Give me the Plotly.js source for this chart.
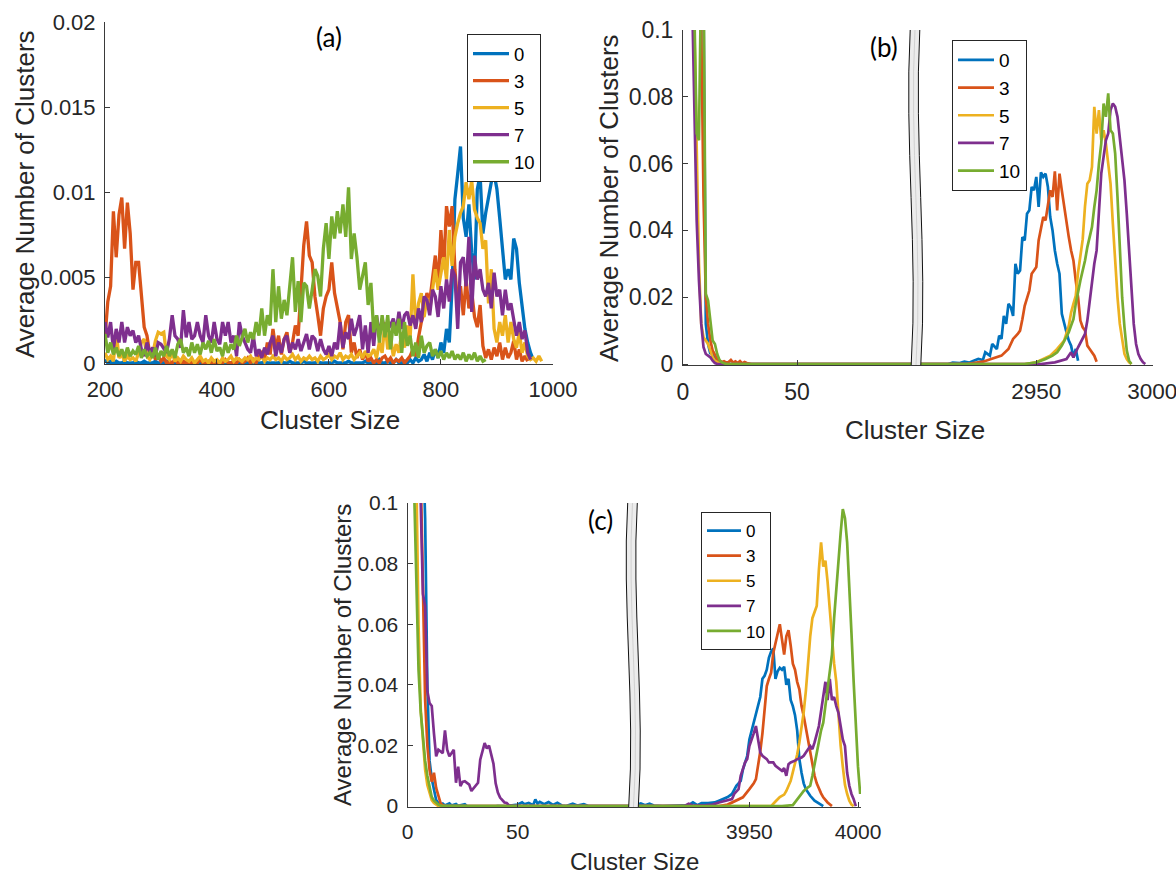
<!DOCTYPE html>
<html><head><meta charset="utf-8">
<script src="https://cdn.plot.ly/plotly-3.0.1.min.js"></script>
<style>html,body{margin:0;padding:0;background:#fff;}#chart{width:1176px;height:876px;}</style>
</head><body><div id="chart"></div>
<script>
// ---------- series meta ----------
const seriesNames = ['0','3','5','7','10'];
const seriesColors = ['#0072BD','#D95319','#EDB120','#7E2F8E','#77AC30'];

// ---------- tick labels ----------
const aXTicks = [200,400,600,800,1000];
const aYTicks = [0,0.005,0.01,0.015,0.02];
const bXTicksL = [0,50], bXTicksR = [2950,3000];
const cXTicksL = [0,50], cXTicksR = [3950,4000];
const bcYTicks = [0,0.02,0.04,0.06,0.08,0.1];

// ---------- panel (a): cluster sizes 200..980 step 5 ----------
const aX = Array.from({length:157},(_,i)=>200+5*i);
const a0 = [0.0002,0,0.0001,0,0.0001,0,0,0.0001,0,0,
 0,0.0001,0,0,0.0001,0,0,0,0.0001,0,
 0,0,0.0001,0,0,0,0.0001,0,0,0,
 0,0.0001,0,0,0,0,0.0001,0,0,0,
 0,0,0,0.0001,0,0,0,0,0.0001,0,
 0,0,0.0001,0,0,0,0,0.0001,0,0,
 0,0,0,0.0001,0,0,0.0001,0,0,0,
 0,0.0001,0,0,0,0,0.0001,0,0,0,
 0,0,0.0001,0,0,0,0,0.0001,0,0,
 0,0,0,0.0001,0,0,0,0,0.0002,0,
 0,0.0001,0,0,0.0002,0,0,0.0001,0,0.0002,
 0,0.0003,0.0001,0.0002,0.0005,0.0001,0.0006,0.0002,0.0008,0.0003,
 0.0012,0.0006,0.002,0.0012,0.0045,0.0096,0.0111,0.0127,0.0085,0.0074,
 0.0093,0.0065,0.0049,0.0102,0.011,0.0076,0.0088,0.0098,0.0106,0.0111,
 0.0102,0.0085,0.0068,0.0049,0.0055,0.0049,0.0073,0.0067,0.0047,0.0035,
 0.002,0.0012,0.0006,0.0002,null,null,null];
const a3 = [0.0015,0.0036,0.0045,0.0089,0.0062,0.0087,0.0097,0.0067,0.0094,0.0076,
 0.0043,0.0059,0.0059,0.0042,0.0021,0.0016,0.0005,0.0008,0.0002,0.0004,
 0.0001,0.0003,0,0.0001,0,0.0002,0,0,0.0001,0,
 0,0.0001,0,0,0.0002,0,0,0.0001,0,0,
 0.0001,0,0,0.0002,0,0,0.0001,0,0.0002,0,
 0.0001,0.0003,0,0.0002,0,0.0004,0.0006,0.0002,0.0012,0.0005,
 0.002,0.0008,0.0016,0.0005,0.0014,0.0018,0.0006,0.0012,0.0022,0.0016,
 0.0041,0.0069,0.0083,0.0063,0.0059,0.0039,0.0028,0.0016,0.0032,0.0039,
 0.0043,0.0059,0.0041,0.0032,0.0024,0.0008,0.0024,0.0028,0.0006,0.0012,
 0.0003,0.0008,0.0002,0.0006,0.0001,0.0003,0,0.0002,0,0.0003,
 0.0004,0.0001,0.0003,0,0.0002,0.0001,0.0003,0,0.0002,0.0004,
 0.0008,0.0004,0.0015,0.0024,0.003,0.0041,0.0036,0.0049,0.0063,0.0045,
 0.0078,0.0055,0.0092,0.008,0.0092,0.0055,0.0034,0.0045,0.0028,0.0049,
 0.0032,0.0042,0.0027,0.0021,0.0034,0.001,0.0003,0.0008,0.0002,0.0009,
 0.0004,0.0012,0.0002,0.0009,0.0003,0.0006,0.0013,0.0002,0.0008,0.0001,
 0.0004,0.0001,null,null,null,null,null];
const a5 = [0.0006,0.0002,0.0004,0.0001,0.0018,0.0003,0.0005,0.0001,0.0004,0.0002,
 0.0003,0.0001,0.0006,0.0012,0.0014,0.0004,0.0002,0.0005,0.0013,0.0018,
 0.0017,0.0018,0.0004,0.0002,0.0006,0.0001,0.0003,0.0001,0.0004,0.0002,
 0.0001,0.0003,0,0.0002,0.0004,0.0001,0.0002,0,0.0003,0.0001,
 0.0002,0,0.0003,0.0001,0.0002,0.0004,0.0001,0.0003,0.0002,0.0001,
 0.0003,0.0002,0.0004,0.0001,0.0003,0.0002,0.0004,0.0001,0.0003,0.0002,
 0.0004,0.0002,0.0003,0.0001,0.0004,0.0002,0.0003,0.0005,0.0002,0.0004,
 0.0001,0.0003,0.0002,0.0004,0.0002,0.0003,0.0001,0.0004,0.0002,0.0003,
 0.0005,0.0002,0.0004,0.0003,0.0006,0.0002,0.0004,0.0003,0.0005,0.0002,
 0.0004,0.0006,0.0003,0.0007,0.0004,0.0005,0.0008,0.0003,0.0012,0.0006,
 0.0024,0.0008,0.0015,0.0004,0.0011,0.0006,0.0018,0.0009,0.0022,0.0014,
 0.0052,0.0021,0.0035,0.0041,0.0027,0.0038,0.0031,0.0045,0.0055,0.0043,
 0.0052,0.0062,0.0049,0.0078,0.0057,0.0074,0.0082,0.0088,0.0092,0.0106,
 0.0096,0.0107,0.009,0.0085,0.0082,0.0067,0.0072,0.0035,0.0055,0.002,
 0.0012,0.0024,0.0016,0.0028,0.0012,0.0024,0.0014,0.0009,0.0018,0.0006,
 0.0012,0.0004,0.0002,0.0003,0.0001,0.0004,0.0001];
const a7 = [0.0024,0.0015,0.0024,0.0008,0.002,0.0012,0.0024,0.0012,0.0021,0.0016,
 0.0019,0.0012,0.0016,0.0008,0.0004,0.0012,0.0006,0.0009,0.0004,0.0012,
 0.0011,0.0008,0.0006,0.0014,0.0028,0.0016,0.0014,0.0009,0.0031,0.0015,
 0.0024,0.0014,0.0016,0.0024,0.0016,0.0012,0.0028,0.0016,0.0012,0.0024,
 0.0014,0.0011,0.0024,0.0016,0.0024,0.0012,0.0016,0.0004,0.0024,0.0016,
 0.0012,0.0008,0.0006,0.0016,0.0004,0.0008,0.0003,0.0009,0.0005,0.0012,
 0.0016,0.0004,0.0012,0.0006,0.0014,0.0016,0.0006,0.0012,0.0008,0.0014,
 0.0007,0.0012,0.0017,0.0008,0.0016,0.0014,0.0007,0.0014,0.0008,0.0005,
 0.001,0.0004,0.0012,0.0008,0.0024,0.0009,0.0018,0.0014,0.0026,0.0016,
 0.0021,0.0028,0.0008,0.0022,0.0006,0.0024,0.001,0.0028,0.0016,0.0026,
 0.0018,0.0024,0.0022,0.0026,0.0018,0.003,0.002,0.0028,0.003,0.0022,
 0.0028,0.002,0.0032,0.0024,0.0039,0.0037,0.0028,0.0043,0.0039,0.0027,
 0.0045,0.0032,0.0049,0.0036,0.0055,0.0051,0.002,0.0059,0.0062,0.0045,
 0.0074,0.003,0.0063,0.0049,0.0055,0.0043,0.0039,0.0047,0.0032,0.0053,
 0.0039,0.0043,0.0028,0.0043,0.0031,0.0035,0.0024,0.0016,0.0024,0.0014,
 0.0019,0.0006,0.0002,null,null,null,null];
const a10 = [0.0017,0.0006,0.0012,0.0005,0.0009,0.0004,0.0008,0.0003,0.0009,0.0004,
 0.0007,0.0005,0.001,0.0003,0.0008,0.0004,0.0006,0.0003,0.0009,0.0002,
 0.0007,0.0004,0.001,0.0004,0.0008,0.0003,0.0011,0.0014,0.0006,0.0009,
 0.0004,0.0012,0.0006,0.0011,0.0005,0.0012,0.0008,0.0013,0.0006,0.0014,
 0.0007,0.0009,0.0004,0.0012,0.0006,0.0011,0.0008,0.0016,0.001,0.0015,
 0.002,0.0012,0.0018,0.0014,0.0024,0.0016,0.0032,0.0016,0.0028,0.0022,
 0.0055,0.0024,0.0045,0.0026,0.0037,0.0028,0.0047,0.0062,0.003,0.0048,
 0.0024,0.0047,0.0045,0.0032,0.0043,0.0055,0.0051,0.0039,0.0067,0.0082,
 0.0061,0.0086,0.0073,0.0089,0.0076,0.0093,0.0074,0.0103,0.0061,0.0076,
 0.0062,0.0043,0.0051,0.0059,0.0034,0.0047,0.0018,0.0028,0.0012,0.0028,
 0.0015,0.0028,0.0008,0.0024,0.0016,0.0026,0.0006,0.0024,0.001,0.0016,
 0.0004,0.0012,0.0003,0.0016,0.0006,0.001,0.0012,0.0004,0.0008,0.0003,
 0.0007,0.0002,0.0006,0.0003,0.0007,0.0002,0.0005,0.0002,0.0006,0.0001,
 0.0005,0.0002,0.0006,0.0001,0.0004,0.0001,0.0002,null,null,null,
 null,null,null,null,null,null,null,null,null,null,
 null,null,null,null,null,null,null];

// ---------- panel (b): small sizes (left of break) ----------
const bL0x = [1,3,5,7,9,10,11,12,13,14,15,16,17,18,102];
const bL0y = [0.6,0.35,0.2,0.14,0.11,0.012,0.006,0.003,0.004,0.0015,0.001,0.0005,0.0003,0,0];
const bL3x = [1,3,5,7,8,9,10,11,12,13,14,15,16,17,18,19,20,21,22,23,24,25,26,27,28,29,30,102];
const bL3y = [0.6,0.35,0.2,0.12,0.1,0.05,0.02,0.012,0.007,0.004,0.0025,0.0015,0.001,0.0006,0.0008,0.0004,0.0006,0.0012,0.0004,0.0008,0.0003,0.0009,0.0002,0.0006,0.0003,0.0001,0,0];
const bL5x = [1,2,3,4,5,6,7,8,9,10,11,12,13,14,15,16,17,102];
const bL5y = [0.6,0.4,0.2,0.13,0.1,0.06,0.03,0.012,0.008,0.007,0.006,0.004,0.002,0.001,0.0005,0.0002,0,0];
const bL7x = [1,2,3,4,5,6,7,8,9,10,11,12,13,14,15,102];
const bL7y = [0.5,0.3,0.18,0.11,0.08,0.043,0.025,0.012,0.005,0.003,0.0025,0.002,0.001,0.0003,0,0];
const bL10x = [1,2,3,4,5,6,7,8,9,10,11,12,13,14,15,16,17,18,19,102];
const bL10y = [0.4,0.25,0.15,0.12,0.105,0.069,0.067,0.12,0.12,0.021,0.019,0.013,0.007,0.006,0.003,0.0012,0.0005,0.0002,0,0];
// ---------- panel (b): large sizes (right of break) ----------
const bR0x = [2898,2912,2914,2917,2919,2921,2923,2925,2927,2928,2930,2931,2933,2934,2935,2936,2937,2938,2939,2940,2941,2942,2943,2944,2945,2946,2947,2948,2949,2950,2951,2952,2953,2954,2955,2956,2957,2958,2959,2960,2961,2962,2963,2964,2965,2966,2967,2968];
const bR0y = [0,0,0.0004,0.0003,0.0007,0.0004,0.001,0.0015,0.0012,0.0035,0.0025,0.006,0.0045,0.0085,0.0075,0.0144,0.012,0.018,0.017,0.0144,0.03,0.027,0.028,0.038,0.037,0.045,0.046,0.053,0.052,0.056,0.047,0.0574,0.056,0.057,0.053,0.044,0.04,0.034,0.03,0.027,0.015,0.012,0.0095,0.007,0.0055,0.002,0.0045,0.001];
const bR3x = [2898,2920,2927,2931,2935,2938,2940,2942,2943,2944,2945,2947,2948,2949,2950,2951,2952,2953,2954,2955,2956,2957,2958,2959,2960,2961,2962,2963,2964,2965,2966,2967,2968,2969,2970,2971,2972,2973,2974,2975,2976];
const bR3y = [0,0,0.0007,0.0015,0.0025,0.0045,0.0075,0.009,0.01,0.0134,0.0174,0.022,0.027,0.028,0.029,0.037,0.041,0.044,0.043,0.047,0.052,0.05,0.0577,0.046,0.057,0.052,0.047,0.043,0.038,0.034,0.031,0.025,0.02,0.013,0.011,0.01,0.0055,0.0045,0.0035,0.0025,0.0007];
const bR5x = [2898,2945,2950,2953,2956,2959,2962,2964,2965,2966,2967,2968,2969,2970,2971,2972,2973,2974,2975,2976,2977,2978,2979,2980,2981,2982,2983,2984,2985,2986,2987,2988,2989,2990,2991];
const bR5y = [0,0,0.0005,0.0015,0.0025,0.0045,0.007,0.0114,0.0154,0.018,0.0204,0.0274,0.032,0.0373,0.0473,0.054,0.055,0.059,0.077,0.069,0.076,0.067,0.07,0.066,0.06,0.054,0.042,0.03,0.02,0.012,0.007,0.003,0.0015,0.0005,0];
const bR7x = [2898,2952,2958,2961,2963,2965,2966,2968,2970,2971,2972,2973,2974,2975,2976,2977,2978,2979,2980,2981,2982,2983,2984,2985,2986,2987,2988,2989,2990,2991,2992,2993,2994,2995,2996,2997];
const bR7y = [0,0,0.0005,0.001,0.0015,0.0035,0.002,0.005,0.0075,0.009,0.013,0.019,0.025,0.03,0.034,0.047,0.057,0.062,0.067,0.069,0.076,0.078,0.077,0.074,0.068,0.062,0.055,0.045,0.035,0.022,0.012,0.006,0.003,0.0015,0.0005,0];
const bR10x = [2898,2945,2950,2954,2957,2959,2961,2963,2964,2965,2966,2967,2968,2969,2970,2971,2972,2973,2974,2975,2976,2977,2978,2979,2980,2981,2982,2983,2984,2985,2986,2987,2988,2989,2990,2991];
const bR10y = [0,0,0.0005,0.0015,0.0025,0.0035,0.0055,0.008,0.0095,0.0115,0.0134,0.018,0.022,0.025,0.028,0.031,0.035,0.038,0.041,0.047,0.052,0.06,0.066,0.078,0.074,0.081,0.07,0.069,0.063,0.05,0.033,0.02,0.011,0.004,0.001,0];

// ---------- panel (c): small sizes ----------
const cL0x = [1,3,5,7,8,9,10,11,12,13,14,15,16,17,19,20,22,23,26,27,40,41,45,50,52,53,55,57,58,59,60,62,64,66,68,70,72,75,77,80,82,102];
const cL0y = [0.6,0.35,0.2,0.12,0.095,0.04,0.015,0.009,0.005,0.002,0.001,0.0005,0.0008,0.0002,0.0009,0.0002,0.0007,0.0001,0.0006,0,0,0.0001,0,0.0005,0.0012,0.0006,0.001,0.0003,0.0022,0.0008,0.0014,0.0006,0.0013,0.0004,0.0011,0.0002,0,0.0008,0.0002,0.0006,0,0];
const cL3x = [1,3,5,6,7,8,9,10,11,12,13,14,15,16,17,102];
const cL3y = [0.5,0.3,0.17,0.11,0.07,0.035,0.02,0.012,0.008,0.011,0.006,0.003,0.001,0.0002,0,0];
const cL5x = [1,2,3,4,5,6,7,8,9,10,11,12,13,14,102];
const cL5y = [0.5,0.3,0.16,0.11,0.06,0.032,0.02,0.012,0.007,0.004,0.002,0.001,0.0004,0,0];
const cL7x = [1,2,3,4,5,6,7,8,9,10,11,12,13,14,15,16,17,18,19,20,21,22,23,24,25,26,27,28,29,30,31,32,33,34,35,36,37,38,39,40,41,42,43,44,45,46,47,102];
const cL7y = [0.6,0.4,0.3,0.2,0.14,0.1,0.07,0.066,0.038,0.034,0.033,0.024,0.0164,0.0186,0.018,0.0175,0.025,0.0186,0.0164,0.0175,0.0186,0.0077,0.013,0.0066,0.008,0.0082,0.0075,0.0071,0.005,0.006,0.0066,0.0077,0.0153,0.018,0.0208,0.019,0.02,0.017,0.014,0.0075,0.0045,0.0028,0.002,0.0012,0.001,0.0003,0,0];
const cL10x = [1,2,3,4,5,6,7,8,9,10,11,12,13,14,15,16,102];
const cL10y = [0.3,0.16,0.105,0.07,0.045,0.031,0.022,0.015,0.01,0.006,0.003,0.0018,0.001,0.0005,0.0002,0,0];
// ---------- panel (c): large sizes ----------
const cR0x = [3896,3898,3900,3902,3904,3906,3910,3922,3924,3926,3928,3931,3934,3936,3938,3940,3942,3943,3944,3945,3946,3947,3948,3949,3950,3951,3952,3953,3954,3955,3956,3957,3958,3959,3960,3961,3962,3963,3964,3965,3966,3967,3968,3969,3970,3971,3972,3973,3974,3975,3976,3978,3980,3982,3984];
const cR0y = [0,0.0005,0.0009,0.0003,0.0008,0.0002,0,0.0003,0.0012,0.0003,0.001,0.001,0.0012,0.0018,0.0023,0.003,0.004,0.0055,0.0067,0.0075,0.0083,0.012,0.014,0.0166,0.022,0.025,0.028,0.031,0.034,0.036,0.042,0.043,0.045,0.049,0.051,0.052,0.042,0.0445,0.0456,0.045,0.046,0.04,0.042,0.035,0.033,0.03,0.025,0.0155,0.011,0.0075,0.0056,0.0034,0.0018,0.0008,0];
const cR3x = [3896,3936,3940,3944,3947,3950,3952,3953,3954,3955,3956,3957,3958,3959,3960,3961,3962,3963,3964,3965,3966,3967,3968,3969,3970,3971,3972,3973,3974,3975,3976,3977,3978,3979,3980,3981,3982,3983,3984,3986,3988];
const cR3y = [0,0,0.0005,0.0018,0.0029,0.0056,0.0075,0.0089,0.0133,0.018,0.024,0.031,0.0396,0.042,0.044,0.0505,0.054,0.057,0.06,0.055,0.05,0.056,0.058,0.053,0.047,0.045,0.041,0.0385,0.033,0.0297,0.026,0.021,0.018,0.0144,0.01,0.0075,0.0055,0.0042,0.0029,0.0012,0];
const cR5x = [3896,3960,3962,3964,3966,3967,3969,3970,3971,3972,3973,3974,3975,3976,3977,3978,3979,3980,3981,3982,3983,3984,3985,3986,3987,3988,3989,3990,3991,3992,3993,3994,3995,3996,3997,3998];
const cR5y = [0,0,0.0015,0.003,0.0038,0.005,0.0083,0.011,0.014,0.017,0.021,0.026,0.031,0.038,0.048,0.056,0.062,0.064,0.066,0.078,0.087,0.079,0.081,0.074,0.064,0.055,0.047,0.041,0.03,0.02,0.013,0.007,0.004,0.0018,0.0005,0];
const cR7x = [3896,3920,3922,3924,3930,3933,3936,3939,3942,3943,3945,3946,3948,3949,3950,3952,3953,3954,3955,3956,3958,3959,3961,3962,3964,3965,3966,3967,3968,3969,3971,3972,3974,3975,3976,3978,3979,3980,3982,3983,3984,3985,3986,3987,3988,3989,3990,3991,3992,3993,3994,3995,3996,3997,3998,3999];
const cR7y = [0,0,0.0008,0.0002,0.0003,0.0005,0.0012,0.0018,0.0023,0.004,0.0056,0.01,0.0144,0.0155,0.0198,0.024,0.0264,0.022,0.0177,0.0166,0.0155,0.0144,0.0144,0.0133,0.012,0.0116,0.0125,0.01,0.0138,0.0144,0.015,0.0155,0.016,0.0166,0.0177,0.0198,0.0188,0.021,0.0264,0.0308,0.036,0.041,0.035,0.042,0.035,0.036,0.033,0.0308,0.0264,0.022,0.0198,0.011,0.0067,0.004,0.0023,0];
const cR10x = [3896,3965,3970,3971,3973,3975,3977,3978,3979,3980,3981,3982,3983,3984,3985,3986,3987,3988,3989,3990,3991,3992,3993,3994,3995,3996,3997,3998,3999,4000,4001];
const cR10y = [0,0,0.0003,0.0012,0.0029,0.005,0.0062,0.0067,0.01,0.014,0.0166,0.022,0.025,0.0275,0.033,0.0374,0.043,0.05,0.062,0.072,0.082,0.09,0.098,0.095,0.087,0.074,0.057,0.041,0.026,0.013,0.004];

// ---------- build ----------
const W = 1176, H = 876;
const fx = v => v / W, fy = v => 1 - v / H;
const FONT = 'Liberation Sans, Arial, Helvetica, sans-serif';
const INK = '#262626';
const AXC = '#3a3a3a';

const aSeries = [a0,a3,a5,a7,a10];
const bLeft = [[bL0x,bL0y],[bL3x,bL3y],[bL5x,bL5y],[bL7x,bL7y],[bL10x,bL10y]];
const bRight = [[bR0x,bR0y],[bR3x,bR3y],[bR5x,bR5y],[bR7x,bR7y],[bR10x,bR10y]];
const cLeft = [[cL0x,cL0y],[cL3x,cL3y],[cL5x,cL5y],[cL7x,cL7y],[cL10x,cL10y]];
const cRight = [[cR0x,cR0y],[cR3x,cR3y],[cR5x,cR5y],[cR7x,cR7y],[cR10x,cR10y]];

const traces = [];
aSeries.forEach((ys,i)=>{
  traces.push({type:'scatter',mode:'lines',x:aX,y:ys,name:seriesNames[i],xaxis:'x',yaxis:'y',
    legend:'legend',line:{color:seriesColors[i],width:3.3},connectgaps:false,hoverinfo:'skip'});
});
bLeft.forEach((d,i)=>{
  traces.push({type:'scatter',mode:'lines',x:d[0],y:d[1],name:seriesNames[i],xaxis:'x2',yaxis:'y2',
    legend:'legend2',legendgroup:'b'+i,line:{color:seriesColors[i],width:2.7},hoverinfo:'skip'});
});
bRight.forEach((d,i)=>{
  traces.push({type:'scatter',mode:'lines',x:d[0],y:d[1],name:seriesNames[i],xaxis:'x3',yaxis:'y2',
    legend:'legend2',legendgroup:'b'+i,showlegend:false,line:{color:seriesColors[i],width:2.7},hoverinfo:'skip'});
});
cLeft.forEach((d,i)=>{
  traces.push({type:'scatter',mode:'lines',x:d[0],y:d[1],name:seriesNames[i],xaxis:'x4',yaxis:'y3',
    legend:'legend3',legendgroup:'c'+i,line:{color:seriesColors[i],width:2.7},hoverinfo:'skip'});
});
cRight.forEach((d,i)=>{
  traces.push({type:'scatter',mode:'lines',x:d[0],y:d[1],name:seriesNames[i],xaxis:'x5',yaxis:'y3',
    legend:'legend3',legendgroup:'c'+i,showlegend:false,line:{color:seriesColors[i],width:2.7},hoverinfo:'skip'});
});

function ax(size, extra){
  return Object.assign({showline:true,linecolor:AXC,linewidth:1,ticks:'inside',ticklen:5,tickwidth:1,
    tickcolor:AXC,showgrid:false,zeroline:false,mirror:false,fixedrange:true,ticklabeloverflow:'allow',
    tickfont:{family:FONT,size:size,color:INK}}, extra);
}

// geometry (pixels)
const A = {x0:105,x1:553,top:22,bot:364};
const B = {x0:683,xb:915,x1:1153,top:30,bot:365};
const C = {x0:407.5,xb:632.5,x1:861,top:503,bot:807};

const layout = {
  width:W,height:H,margin:{l:0,r:0,t:0,b:0},paper_bgcolor:'#fff',plot_bgcolor:'rgba(0,0,0,0)',
  font:{family:FONT,color:INK},
  xaxis: ax(22,{domain:[fx(A.x0),fx(A.x1)],range:[200,1000.2],tickvals:aXTicks,anchor:'y',ticklabelstandoff:6}),
  yaxis: ax(22,{domain:[fy(A.bot),fy(A.top)],range:[-0.00006,0.02],tickvals:aYTicks,anchor:'x',ticklabelstandoff:4}),
  xaxis2: ax(23,{domain:[fx(B.x0),fx(B.xb)],range:[0,(B.xb-B.x0)/2.28],tickvals:bXTicksL,anchor:'y2',ticklabelstandoff:6}),
  xaxis3: ax(22.5,{domain:[fx(B.xb),fx(B.x1)],range:[3000.3-(B.x1-B.xb)/2.32,3000.3],tickvals:bXTicksR,anchor:'y2',ticklabelstandoff:6}),
  yaxis2: ax(23,{domain:[fy(B.bot),fy(B.top)],range:[-0.0003,0.1],tickvals:bcYTicks,anchor:'x2',ticklabelstandoff:4}),
  xaxis4: ax(21,{domain:[fx(C.x0),fx(C.xb)],range:[0,(C.xb-C.x0)/2.204],tickvals:cXTicksL,anchor:'y3',ticklabelstandoff:6}),
  xaxis5: ax(21,{domain:[fx(C.xb),fx(C.x1)],range:[3950-(749.4-C.xb)/2.172,3950+(C.x1-749.4)/2.172],tickvals:cXTicksR,anchor:'y3',ticklabelstandoff:6}),
  yaxis3: ax(21,{domain:[fy(C.bot),fy(C.top)],range:[-0.0003,0.1],tickvals:bcYTicks,anchor:'x4',ticklabelstandoff:4}),
  legend:{x:fx(467),y:fy(34),xanchor:'left',yanchor:'top',bordercolor:INK,borderwidth:1,bgcolor:'#fff',
    font:{family:FONT,size:18.5,color:'#000'},tracegroupgap:0,itemwidth:36},
  legend2:{x:fx(952),y:fy(40),xanchor:'left',yanchor:'top',bordercolor:INK,borderwidth:1,bgcolor:'#fff',
    font:{family:FONT,size:19,color:'#000'},tracegroupgap:0,itemwidth:36},
  legend3:{x:fx(701),y:fy(512),xanchor:'left',yanchor:'top',bordercolor:INK,borderwidth:1,bgcolor:'#fff',
    font:{family:FONT,size:17,color:'#000'},tracegroupgap:0,itemwidth:34},
  annotations:[],
  shapes:[]
};

function ann(text,x,y,size,extra){
  layout.annotations.push(Object.assign({text:text,x:fx(x),y:fy(y),xref:'paper',yref:'paper',showarrow:false,
    xanchor:'center',yanchor:'middle',font:{family:FONT,size:size,color:INK}},extra||{}));
}
ann('Cluster Size',330,420,26);
ann('Average Number of Clusters',25,194,26,{textangle:-90});
ann('Cluster Size',915,430,26);
ann('Average Number of Clusters',609,198,26,{textangle:-90});
ann('Cluster Size',634,861,24);
ann('Average Number of Clusters',342,655,24,{textangle:-90});
const LBL = 'Lato, Open Sans, sans-serif';
ann('(a)',329,37,26,{font:{family:LBL,size:26,color:'#000'}});
ann('(b)',884,47,26,{font:{family:LBL,size:26,color:'#000'}});
ann('(c)',600,520,26,{font:{family:LBL,size:26,color:'#000'}});

// axis-break symbol (wavy band)
function P(x,y){ return fx(x).toFixed(5)+','+fy(y).toFixed(5); }
function breakBand(xb,top,bot,w){
  const h = bot-top, y1 = top+h/3, y2 = top+2*h/3;
  const edge = (o)=>'M'+P(xb+o,top)+' C'+P(xb+o-6,y1)+' '+P(xb+o+8,y2)+' '+P(xb+o+1,bot);
  const fill = 'M'+P(xb-w,top)+' C'+P(xb-w-6,y1)+' '+P(xb-w+8,y2)+' '+P(xb-w+1,bot)+
    ' L'+P(xb+w+1,bot)+' C'+P(xb+w+8,y2)+' '+P(xb+w-6,y1)+' '+P(xb+w,top)+' Z';
  layout.shapes.push({type:'path',xref:'paper',yref:'paper',path:fill,fillcolor:'#ececec',line:{width:0},layer:'above'});
  layout.shapes.push({type:'path',xref:'paper',yref:'paper',path:edge(0),line:{color:'#c4c4c4',width:0.7},layer:'above'});
  layout.shapes.push({type:'path',xref:'paper',yref:'paper',path:edge(-w),line:{color:'#111',width:1},layer:'above'});
  layout.shapes.push({type:'path',xref:'paper',yref:'paper',path:edge(w),line:{color:'#111',width:1},layer:'above'});
}
breakBand(B.xb,B.top,B.bot,4.8);
breakBand(C.xb,C.top,C.bot,4.8);

Plotly.newPlot('chart',traces,layout,{displayModeBar:false,staticPlot:true});
</script>
</body></html>
